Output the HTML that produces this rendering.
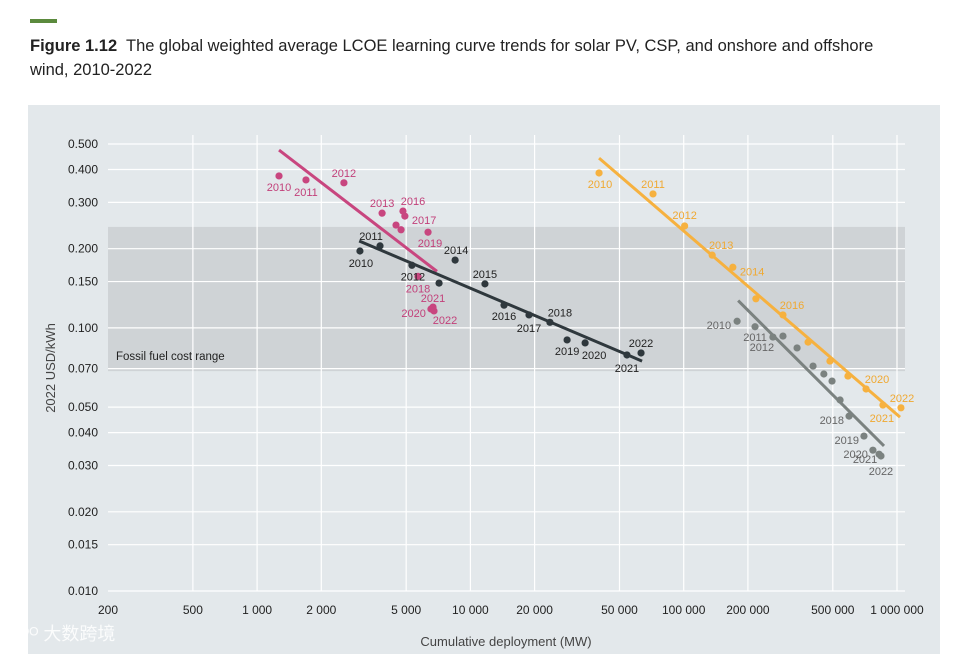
<!DOCTYPE html>
<html><head><meta charset="utf-8">
<style>
body{margin:0;background:#fff;width:973px;height:654px;overflow:hidden;font-family:"Liberation Sans","Noto Sans CJK SC",sans-serif;}
#bar{position:absolute;left:30px;top:19px;width:27px;height:4px;background:#5b8a3d}
#title{position:absolute;left:30px;top:34px;width:860px;font-size:16.5px;line-height:24px;color:#222}
#title b{font-weight:bold}
svg{position:absolute;left:0;top:0}
</style></head><body>
<div id="bar"></div>
<div id="title"><b>Figure 1.12</b>&nbsp; The global weighted average LCOE learning curve trends for solar PV, CSP, and onshore and offshore wind, 2010-2022</div>
<svg id="chart" width="973" height="654"></svg>
<script>
// ---- data ----
const xTicks=[200,500,1000,2000,5000,10000,20000,50000,100000,200000,500000,1000000];
const xTickLabels=["200","500","1 000","2 000","5 000","10 000","20 000","50 000","100 000","200 000","500 000","1 000 000"];
const yTicks=[0.5,0.4,0.3,0.2,0.15,0.1,0.07,0.05,0.04,0.03,0.02,0.015,0.01];
const yTickLabels=["0.500","0.400","0.300","0.200","0.150","0.100","0.070","0.050","0.040","0.030","0.020","0.015","0.010"];
const fossilRange=[0.0685,0.242];

const offX=[1267,1695,2553,3855,4480,4730,4830,4930,5680,6330,6530,6680,6750];
const offY=[0.378,0.365,0.356,0.273,0.246,0.236,0.278,0.266,0.157,0.231,0.118,0.120,0.116];
const offYears=["2010","2011","2012","2013","","","2016","2017","2018","2019","2020","2021","2022"];
const offTrendX=[1267,6970], offTrendY=[0.474,0.164];

const onX=[3035,3770,5320,7130,8480,11700,14380,18830,23600,28400,34500,54200,63100];
const onY=[0.196,0.205,0.173,0.148,0.181,0.147,0.122,0.112,0.105,0.090,0.0877,0.0789,0.0803];
const onYears=["2010","2011","2012","","2014","2015","2016","2017","2018","2019","2020","2021","2022"];
const onTrendX=[3010,63800], onTrendY=[0.214,0.0748];

const pvX=[40100,71800,101000,136000,170000,218000,292000,383000,485000,589000,716000,859000,1044000];
const pvY=[0.388,0.323,0.244,0.189,0.170,0.129,0.112,0.0883,0.0748,0.0656,0.0586,0.0509,0.0497];
const pvYears=["2010","2011","2012","2013","2014","","2016","","","","2020","2021","2022"];
const pvTrendX=[40100,1033000], pvTrendY=[0.442,0.0458];

const cspX=[178000,216000,262000,292000,340000,404000,454000,496000,541000,596000,700000,771000,824000,841000];
const cspY=[0.106,0.101,0.0923,0.0931,0.0839,0.0716,0.0668,0.0628,0.0532,0.0462,0.0388,0.0343,0.0331,0.0326];
const cspYears=["2010","2011","2012","","","","","","","2018","2019","2020","2021","2022"];
const cspTrendX=[180000,869000], cspTrendY=[0.127,0.0356];

// ---- label placement (layout, not data): [dx,dy,anchor]
const offLab=[[0,11,"middle"],[0,12,"middle"],[0,-10,"middle"],[0,-10,"middle"],null,null,[10,-10,"middle"],[7,4,"start"],[0,12,"middle"],[2,11,"middle"],[-5,4,"end"],[0,-9,"middle"],[11,9,"middle"]];
const onLab=[[1,12,"middle"],[-9,-10,"middle"],[1,11,"middle"],null,[1,-10,"middle"],[0,-10,"middle"],[0,11,"middle"],[0,13,"middle"],[10,-10,"middle"],[0,11,"middle"],[9,12,"middle"],[0,13,"middle"],[0,-10,"middle"]];
const pvLab=[[1,11,"middle"],[0,-10,"middle"],[0,-11,"middle"],[9,-10,"middle"],[7,4,"start"],null,[9,-10,"middle"],null,null,null,[11,-10,"middle"],[-1,13,"middle"],[1,-10,"middle"]];
const cspLab=[[-6,4,"end"],[0,10,"middle"],[-11,10,"middle"],null,null,null,null,null,null,[-5,4,"end"],[-5,4,"end"],[-5,4,"end"],[-14,5,"middle"],[0,15,"middle"]];

// ---- axes ----
const X0=108,X1=897,Y0=144,Y1=591;
const xs=v=>X0+Math.log10(v/200)/Math.log10(1000000/200)*(X1-X0);
const ys=v=>Y0+Math.log10(0.5/v)/Math.log10(0.5/0.01)*(Y1-Y0);
const svg=document.getElementById('chart');
const NS="http://www.w3.org/2000/svg";
function mk(tag,attrs,parent){const e=document.createElementNS(NS,tag);for(const k in attrs)e.setAttribute(k,attrs[k]);(parent||svg).appendChild(e);return e;}

const panel=mk('rect',{x:28,y:105,width:912,height:560,fill:'#e3e8eb'});


const band=mk('rect',{x:X0,y:ys(fossilRange[1]),width:905-X0,height:ys(fossilRange[0])-ys(fossilRange[1]),fill:'#cfd3d6'});


const bandLbl=mk('text',{x:116,y:ys(fossilRange[0])-11,'font-size':11.5,fill:'#222'});
bandLbl.textContent='Fossil fuel cost range';



yTicks.forEach((t,i)=>{
  const g=mk('line',{x1:X0,x2:905,y1:ys(t),y2:ys(t),stroke:'#fff','stroke-width':1.2});
  
  
  const l=mk('text',{x:98,y:ys(t)+4,'text-anchor':'end','font-size':12,fill:'#222'});
  l.textContent=yTickLabels[i];
  
  
});
xTicks.forEach((t,i)=>{
  if(i>0){const g=mk('line',{x1:xs(t),x2:xs(t),y1:135,y2:Y1,stroke:'#fff','stroke-width':1.2});
  
  }
  const l=mk('text',{x:xs(t),y:614,'text-anchor':'middle','font-size':12,fill:'#222'});
  l.textContent=xTickLabels[i];
  
  
});
const xt=mk('text',{x:506,y:646,'text-anchor':'middle','font-size':13,fill:'#444'});
xt.textContent='Cumulative deployment (MW)';


const yt=mk('text',{x:0,y:0,'text-anchor':'middle','font-size':13,fill:'#444',transform:'translate(55,368) rotate(-90)'});
yt.textContent='2022 USD/kWh';



function series(name,xa,ya,yrs,lab,tx,ty,color,labColor){
  const ln=mk('line',{x1:xs(tx[0]),y1:ys(ty[0]),x2:xs(tx[1]),y2:ys(ty[1]),stroke:color,'stroke-width':3});
  
  
  xa.forEach((v,i)=>{
    const c=mk('circle',{cx:xs(v),cy:ys(ya[i]),r:3.6,fill:color});
    
    
    const L=lab[i];
    if(L&&yrs[i]){
      const t=mk('text',{x:xs(v)+L[0],y:ys(ya[i])+L[1]+4,'text-anchor':L[2],'font-size':11,fill:labColor});
      t.textContent=yrs[i];
      
      
    }
  });
}
series('offshore-wind',offX,offY,offYears,offLab,offTrendX,offTrendY,'#c8467f','#c2407a');
series('onshore-wind',onX,onY,onYears,onLab,onTrendX,onTrendY,'#2f383d','#222');
series('csp',cspX,cspY,cspYears,cspLab,cspTrendX,cspTrendY,'#7b8280','#666');
series('solar-pv',pvX,pvY,pvYears,pvLab,pvTrendX,pvTrendY,'#f6b13f','#f0a830');

const wm=mk('text',{x:8,y:640,'font-size':18,fill:'#ffffff','fill-opacity':0.85});
wm.textContent='Kᴼᴼ 大数跨境';


</script>
</body></html>
